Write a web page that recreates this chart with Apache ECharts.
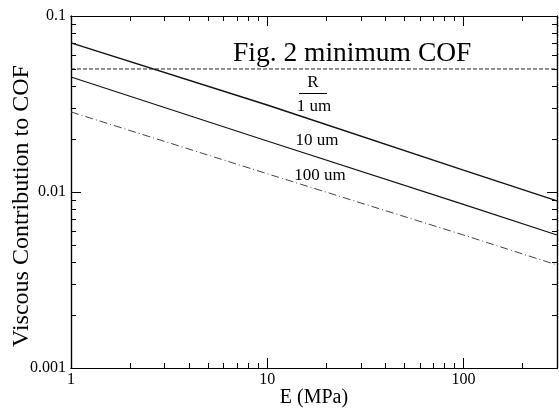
<!DOCTYPE html>
<html>
<head>
<meta charset="utf-8">
<script src="https://cdn.jsdelivr.net/npm/echarts@6/dist/echarts.min.js"></script>
<style>
  html, body { margin: 0; padding: 0; background: #fff; }
  #chart { width: 559px; height: 410px; }
</style>
</head>
<body>
<div id="chart"></div>
<script>
const eValues = [1, 10, 100, 300];
const cofR1 = [0.0703, 0.0312, 0.0133, 0.0089];
const cofR10 = [0.045, 0.0195, 0.0085, 0.0057];
const cofR100 = [0.0285, 0.0127, 0.0057, 0.00385];
const cofMin = [0.05, 0.05, 0.05, 0.05];

const xMajorTicks = [1, 10, 100];
const xMinorTicks = [2, 3, 4, 5, 6, 7, 8, 9, 20, 30, 40, 50, 60, 70, 80, 90, 200, 300];
const yMajorTicks = [0.001, 0.01, 0.1];
const yMinorTicks = [0.002, 0.003, 0.004, 0.005, 0.006, 0.007, 0.008, 0.009,
  0.02, 0.03, 0.04, 0.05, 0.06, 0.07, 0.08, 0.09];

const serif = "Liberation Serif";
const ink = "#000";

function pairs(ys) {
  return eValues.map((e, i) => [e, ys[i]]);
}

function xAxisOf(position, ticks, len, labels) {
  return {
    type: "log",
    logBase: 10,
    min: 1,
    max: 300,
    position: position,
    axisLine: { show: true, lineStyle: { color: ink, width: 1.2 } },
    axisTick: { show: true, inside: true, length: len, customValues: ticks, lineStyle: { color: ink, width: 1 } },
    axisLabel: labels
      ? { show: true, customValues: xMajorTicks, margin: 4, fontFamily: serif, fontSize: 16, color: ink }
      : { show: false },
    splitLine: { show: false },
    minorTick: { show: false },
  };
}

function yAxisOf(position, ticks, len, labels) {
  return {
    type: "log",
    logBase: 10,
    min: 0.001,
    max: 0.1,
    position: position,
    axisLine: { show: true, lineStyle: { color: ink, width: 1.2 } },
    axisTick: { show: true, inside: true, length: len, customValues: ticks, lineStyle: { color: ink, width: 1 } },
    axisLabel: labels
      ? { show: true, customValues: yMajorTicks, margin: 5, fontFamily: serif, fontSize: 16, color: ink,
          formatter: (v) => String(Number(v.toPrecision(3))) }
      : { show: false },
    splitLine: { show: false },
    minorTick: { show: false },
  };
}

const chart = echarts.init(document.getElementById("chart"));

const xBottom = xAxisOf("bottom", xMajorTicks, 10, true);
xBottom.name = "E (MPa)";
xBottom.nameLocation = "middle";
xBottom.nameGap = 20;
xBottom.nameMoveOverlap = false;
xBottom.nameTextStyle = { fontFamily: serif, fontSize: 20, color: ink };

const yLeft = yAxisOf("left", yMajorTicks, 10, true);
yLeft.name = "Viscous Contribution to COF";
yLeft.nameLocation = "middle";
yLeft.nameGap = 37;
yLeft.nameMoveOverlap = false;
yLeft.nameTextStyle = { fontFamily: serif, fontSize: 24, color: ink, padding: [0, 28, 0, 0] };

const option = {
  animation: false,
  backgroundColor: "#fff",
  grid: { left: 71, right: 2, top: 16, bottom: 42, containLabel: false, outerBoundsMode: "none" },
  xAxis: [
    xBottom,
    xAxisOf("bottom", xMinorTicks, 5, false),
    xAxisOf("top", xMajorTicks, 10, false),
    xAxisOf("top", xMinorTicks, 5, false),
  ],
  yAxis: [
    yLeft,
    yAxisOf("left", yMinorTicks, 5, false),
    yAxisOf("right", yMajorTicks, 10, false),
    yAxisOf("right", yMinorTicks, 5, false),
  ],
  series: [
    {
      name: "minimum COF",
      type: "line",
      data: pairs(cofMin),
      symbol: "none",
      lineStyle: { color: "#222", width: 1, type: [4, 2] },
    },
    {
      name: "1 um",
      type: "line",
      data: pairs(cofR1),
      symbol: "none",
      lineStyle: { color: "#111", width: 1.4 },
    },
    {
      name: "10 um",
      type: "line",
      data: pairs(cofR10),
      symbol: "none",
      lineStyle: { color: "#111", width: 1.2 },
    },
    {
      name: "100 um",
      type: "line",
      data: pairs(cofR100),
      symbol: "none",
      lineStyle: { color: "#444", width: 1, type: [8, 3, 1, 3] },
    },
  ],
  graphic: [
    {
      type: "text",
      x: 233,
      y: 54,
      style: { text: "Fig. 2 minimum COF", font: `27.5px "${serif}"`, fill: ink, verticalAlign: "middle", align: "left" },
    },
    {
      type: "text",
      x: 313,
      y: 83,
      style: { text: "R", font: `17px "${serif}"`, fill: ink, verticalAlign: "middle", align: "center" },
    },
    {
      type: "line",
      shape: { x1: 299, y1: 93.5, x2: 327, y2: 93.5 },
      style: { stroke: ink, lineWidth: 1 },
    },
    {
      type: "text",
      x: 314,
      y: 107,
      style: { text: "1 um", font: `17px "${serif}"`, fill: ink, verticalAlign: "middle", align: "center" },
    },
    {
      type: "text",
      x: 317,
      y: 141,
      style: { text: "10 um", font: `17px "${serif}"`, fill: ink, verticalAlign: "middle", align: "center" },
    },
    {
      type: "text",
      x: 320,
      y: 176,
      style: { text: "100 um", font: `17px "${serif}"`, fill: ink, verticalAlign: "middle", align: "center" },
    },
  ],
};

chart.setOption(option);
</script>
</body>
</html>
